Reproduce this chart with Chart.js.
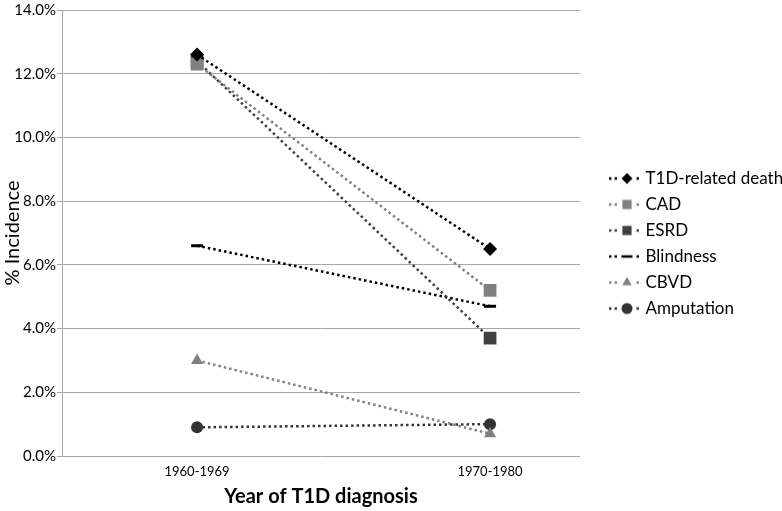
<!DOCTYPE html>
<html>
<head>
<meta charset="utf-8">
<script src="https://cdn.jsdelivr.net/npm/chart.js@4/dist/chart.umd.min.js"></script>
<style>
  html, body { margin: 0; padding: 0; background: #fff; }
  #wrap { width: 782px; height: 511px; }
</style>
</head>
<body>
<div id="wrap"><canvas id="myChart"></canvas></div>
<script>
const periods = ["1960-1969", "1970-1980"];
const yTicks = [0, 2, 4, 6, 8, 10, 12, 14];

const deathVals = [12.6, 6.5];
const cadVals = [12.3, 5.2];
const esrdVals = [12.4, 3.7];
const blindVals = [6.6, 4.7];
const cbvdVals = [3.0, 0.7];
const amputVals = [0.9, 1.0];

const FONT = "Lato, 'Open Sans', sans-serif";

function pts(vals) {
	return vals.map((v, i) => ({ x: i, y: v }));
}

function series(label, vals, color, style, radius) {
	return {
		label: label,
		data: pts(vals),
		borderColor: color,
		backgroundColor: color,
		borderWidth: 2.5,
		borderDash: [2.5, 3],
		pointStyle: style,
		pointRadius: radius,
		pointBorderWidth: style === "line" ? 3 : 0,
		pointBackgroundColor: color,
		pointBorderColor: color,
		tension: 0,
	};
}

// small legend image: dotted line with the marker in the middle
function legendIcon(ds) {
	const c = document.createElement("canvas");
	c.width = 60;
	c.height = 16;
	const g = c.getContext("2d");
	g.strokeStyle = ds.borderColor;
	g.fillStyle = ds.borderColor;
	g.lineWidth = 2.5;
	g.setLineDash([2.5, 3]);
	g.beginPath();
	g.moveTo(26, 8);
	g.lineTo(59, 8);
	g.stroke();
	g.setLineDash([]);
	g.clearRect(37, 0, 14, 16);
	const r = ds.pointStyle === "rect" ? 6.5 : 5.5;
	Chart.helpers.drawPoint(g, {
		pointStyle: ds.pointStyle,
		radius: r,
		borderWidth: ds.pointStyle === "line" ? 3 : 0,
	}, 44, 8);
	return c;
}

// keep the legend column at a fixed width
const legendWidth = {
	id: "legendWidth",
	beforeInit(chart) {
		const fit = chart.legend.fit;
		chart.legend.fit = function () {
			fit.bind(chart.legend)();
			this.width = 202;
		};
	},
};

const ctx = document.getElementById("myChart");

new Chart(ctx, {
	type: "line",
	data: {
		datasets: [
			series("T1D-related death", deathVals, "#000000", "rectRot", 7),
			series("CAD", cadVals, "#808080", "rect", 9),
			series("ESRD", esrdVals, "#404040", "rect", 9),
			series("Blindness", blindVals, "#000000", "line", 6),
			series("CBVD", cbvdVals, "#808080", "triangle", 7),
			series("Amputation", amputVals, "#333333", "circle", 6),
		],
	},
	plugins: [legendWidth],
	options: {
		responsive: true,
		maintainAspectRatio: false,
		animation: false,
		layout: { padding: { top: 1, right: 0, bottom: 0, left: 1 } },
		plugins: {
			tooltip: { enabled: false },
			legend: {
				position: "right",
				align: "start",
				title: { display: true, text: "", font: { size: 10 }, padding: 74 },
				labels: {
					usePointStyle: true,
					pointStyleWidth: 48,
					padding: 9,
					color: "#000",
					font: { family: FONT, size: 17 },
					generateLabels: (chart) =>
						chart.data.datasets.map((ds, i) => ({
							text: ds.label,
							pointStyle: legendIcon(ds),
							fillStyle: ds.borderColor,
							strokeStyle: ds.borderColor,
							fontColor: "#000",
							lineWidth: 0,
							datasetIndex: i,
							hidden: false,
						})),
				},
			},
		},
		scales: {
			x: {
				type: "linear",
				min: -0.461,
				max: 1.307,
				afterBuildTicks: (axis) => {
					axis.ticks = periods.map((p, i) => ({ value: i }));
				},
				afterFit: (axis) => {
					axis.height = 55;
				},
				ticks: {
					autoSkip: false,
					maxRotation: 0,
					color: "#000",
					font: { family: FONT, size: 13 },
					padding: 0,
					callback: (v) => periods[v],
				},
				grid: { display: false },
				border: { display: false },
				title: {
					display: true,
					text: "Year of T1D diagnosis",
					color: "#000",
					font: { family: FONT, size: 20, weight: "bold" },
					padding: { top: 0, bottom: 2 },
				},
			},
			y: {
				min: 0,
				max: 14,
				afterBuildTicks: (axis) => {
					axis.ticks = yTicks.map((v) => ({ value: v }));
				},
				afterFit: (axis) => {
					axis.width = 61;
				},
				ticks: {
					color: "#000",
					font: { family: FONT, size: 15 },
					padding: 1,
					callback: (v) => v.toFixed(1) + "%",
				},
				grid: { color: "#a6a6a6", lineWidth: 1, tickLength: 5 },
				border: { display: true, color: "#a6a6a6" },
				title: {
					display: true,
					text: "% Incidence",
					color: "#000",
					font: { family: FONT, size: 20 },
					padding: { top: 0, bottom: 0 },
				},
			},
		},
	},
});
</script>
</body>
</html>
